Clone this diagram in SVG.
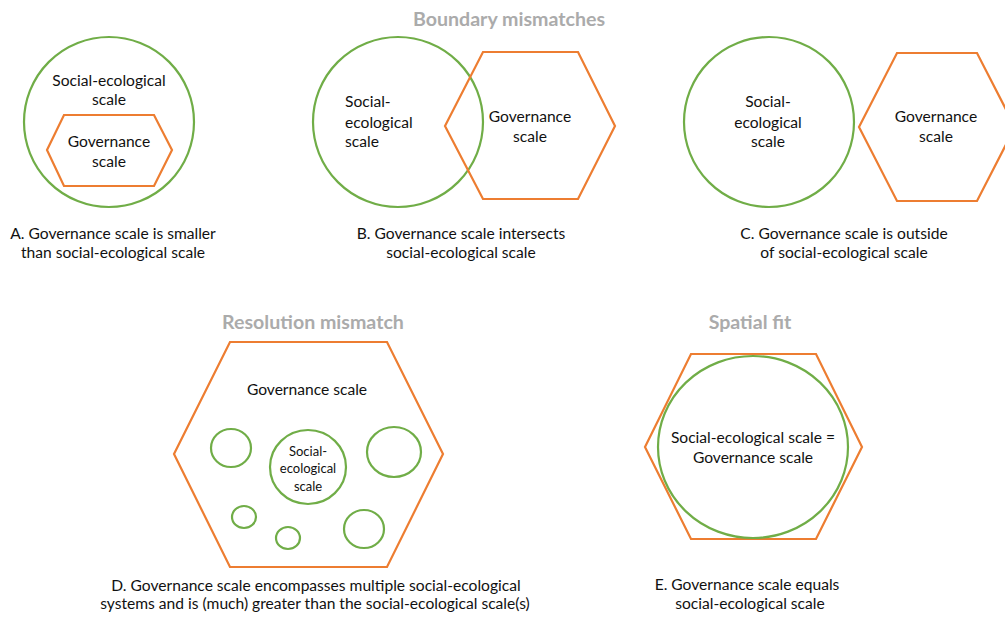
<svg xmlns="http://www.w3.org/2000/svg" width="1005" height="617" viewBox="0 0 1005 617">
<style>
.g{fill:none;stroke:#70ad47;stroke-width:2.2}
.o{fill:none;stroke:#ed7d31;stroke-width:2.2}
text{font-family:Lato,"Open Sans","Liberation Sans",sans-serif;font-size:15.6px;fill:#111;text-anchor:middle}
.t{font-weight:bold;font-size:19.6px;fill:#ababab}
.s{font-size:13px}
.l{text-anchor:start}
</style>
<rect width="1005" height="617" fill="#fff"/>
<text class="t" x="509" y="26">Boundary mismatches</text>
<text class="t" x="313" y="329">Resolution mismatch</text>
<text class="t" x="750" y="329">Spatial fit</text>
<g id="panelA">
<circle class="g" cx="109" cy="122" r="85"/>
<polygon class="o" points="47,150 64,115 154,115 172,150 154,186 64,186"/>
<text x="109" y="86">Social-ecological</text>
<text x="109" y="105">scale</text>
<text x="109" y="147">Governance</text>
<text x="109" y="167">scale</text>
<text x="113" y="239">A. Governance scale is smaller</text>
<text x="113" y="258">than social-ecological scale</text>
</g>
<g id="panelB">
<circle class="g" cx="398" cy="122" r="85"/>
<polygon class="o" points="445,126 483,52 578,52 615,126 578,199 483,199"/>
<text class="l" x="345" y="107">Social-</text>
<text class="l" x="345" y="128">ecological</text>
<text class="l" x="345" y="147">scale</text>
<text x="530" y="122">Governance</text>
<text x="530" y="142">scale</text>
<text x="461" y="239">B. Governance scale intersects</text>
<text x="461" y="258">social-ecological scale</text>
</g>
<g id="panelC">
<circle class="g" cx="769" cy="122" r="85"/>
<polygon class="o" points="859,127 897,53 977,53 1015,127 977,201 897,201"/>
<text x="768" y="107">Social-</text>
<text x="768" y="128">ecological</text>
<text x="768" y="147">scale</text>
<text x="936" y="122">Governance</text>
<text x="936" y="142">scale</text>
<text x="844" y="239">C. Governance scale is outside</text>
<text x="844" y="258">of social-ecological scale</text>
</g>
<g id="panelD">
<polygon class="o" points="174,454 230,342 387,342 443,454 387,567 230,567"/>
<text x="307" y="395">Governance scale</text>
<ellipse class="g" cx="231" cy="448" rx="20" ry="19"/>
<ellipse class="g" cx="308" cy="467" rx="38" ry="37"/>
<ellipse class="g" cx="394" cy="452" rx="27" ry="25"/>
<ellipse class="g" cx="244" cy="517" rx="12" ry="11"/>
<ellipse class="g" cx="288" cy="538" rx="12" ry="11"/>
<ellipse class="g" cx="364" cy="529" rx="20" ry="19"/>
<text class="s" x="308" y="456">Social-</text>
<text class="s" x="308" y="473">ecological</text>
<text class="s" x="308" y="491">scale</text>
<text x="316" y="591">D. Governance scale encompasses multiple social-ecological</text>
<text x="315" y="609">systems and is (much) greater than the social-ecological scale(s)</text>
</g>
<g id="panelE">
<polygon class="o" points="645,447 691,354 816,354 862,447 816,539 691,539"/>
<ellipse class="g" cx="753" cy="447" rx="95" ry="91"/>
<text x="753" y="443">Social-ecological scale =</text>
<text x="753" y="463">Governance scale</text>
<text x="747" y="590">E. Governance scale equals</text>
<text x="750" y="609">social-ecological scale</text>
</g>
<g id="connectors"/>
</svg>
